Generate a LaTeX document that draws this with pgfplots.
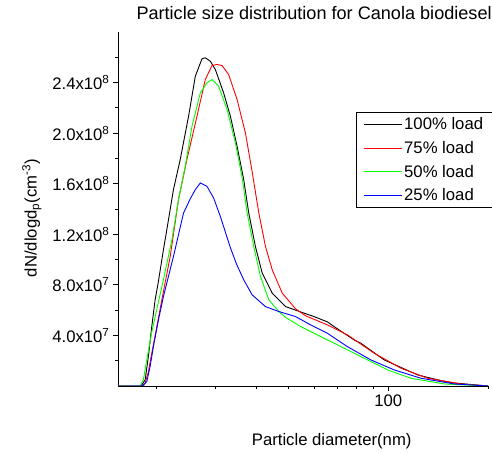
\documentclass[border=0pt]{standalone}
\usepackage{pgfplots}
\pgfplotsset{compat=1.18}
\usepackage{fontspec}
\setmainfont{Liberation Sans}
\definecolor{cgreen}{rgb}{0,1,0}
\definecolor{cred}{rgb}{1,0,0}
\definecolor{cblue}{rgb}{0,0,1}
\newcommand{\fs}{\fontsize{16.7bp}{20bp}\selectfont}
\begin{document}
\begin{tikzpicture}
\begin{axis}[
  at={(118bp,67bp)}, anchor=south west,
  scale only axis, width=370bp, height=354bp,
  xmode=log, xmin=15.28, xmax=200,
  ymin=0, ymax=2.8e8,
  axis x line*=bottom, axis y line*=left,
  axis line style={line width=0.9bp},
  tick align=outside,
  major tick length=5bp, minor tick length=3bp,
  every tick/.style={black, line width=0.8bp},
  xtick={100}, xticklabels={\textrm{100}},
  minor xtick={20,30,40,50,60,70,80,90,200},
  ytick={4e7,8e7,1.2e8,1.6e8,2.0e8,2.4e8},
  minor ytick={2e7,6e7,1e8,1.4e8,1.8e8,2.2e8,2.6e8},
  scaled y ticks=false,
  yticklabels={\textrm{4.0x10\textsuperscript{7}},\textrm{8.0x10\textsuperscript{7}},\textrm{1.2x10\textsuperscript{8}},\textrm{1.6x10\textsuperscript{8}},\textrm{2.0x10\textsuperscript{8}},\textrm{2.4x10\textsuperscript{8}}},
  ticklabel style={font=\fs},
  xlabel={Particle diameter(nm)},
  xlabel style={font=\fs, at={(axis description cs:0.5776,-0.1667)}, anchor=base},
  ylabel={dN/dlogd\textsubscript{p}(cm\textsuperscript{-3})},
  ylabel style={font=\fs, at={(axis description cs:-0.22,0.4746)}, anchor=base, rotate=0},
  title={Particle size distribution for Canola biodiesel},
  title style={font=\fontsize{18.1bp}{21bp}\selectfont, at={(axis description cs:0,1)}, anchor=base west, xshift=15bp, yshift=6.3bp},
  legend style={at={(axis description cs:0.6424,0.7740)}, anchor=north west, draw=black, line width=0.8bp, font=\fs, inner xsep=7bp, inner ysep=3.5bp, row sep=6bp, cells={anchor=west}},
  legend image code/.code={\draw[line width=1.1bp,#1] (0bp,0bp) -- (38bp,0bp);},
  every axis plot/.append style={line width=0.9bp},
]
\addplot[color=black] coordinates {
(15.28,0) (17.93,0) (18.02,0.08e7) (18.45,0.48e7) (18.87,2.32e7) (19.32,4.70e7) (19.78,6.81e7) (20.20,8.16e7) (20.95,10.77e7) (21.65,12.99e7) (22.46,15.53e7) (23.54,17.90e7) (24.95,21.33e7) (26.15,24.50e7) (27.39,25.88e7) (28.03,25.96e7) (29.02,25.69e7) (30.06,25.03e7) (31.84,23.18e7) (33.38,21.33e7) (34.97,18.95e7) (36.61,16.32e7) (37.92,13.68e7) (39.72,11.03e7) (41.63,8.93e7) (44.63,7.34e7) (48.98,6.28e7) (53.15,5.95e7) (56.31,5.72e7) (59.68,5.49e7) (65.52,5.07e7) (68.62,4.70e7) (78.88,3.64e7) (82.65,3.38e7) (97.25,2.06e7) (122.8,0.87e7) (141.5,0.48e7) (154.9,0.26e7) (200,0)
};
\addlegendentry{100\% load\hspace{14bp}}
\addplot[color=cred] coordinates {
(15.28,0) (18.22,0) (18.45,0.21e7) (18.87,1.13e7) (19.32,2.59e7) (20.01,4.70e7) (20.72,6.81e7) (21.96,10.24e7) (23.26,14.73e7) (24.66,17.90e7) (26.45,21.33e7) (28.03,24.24e7) (29.37,25.35e7) (30.41,25.43e7) (31.49,25.35e7) (32.97,24.63e7) (34.97,22.65e7) (37.05,20.01e7) (38.82,16.95e7) (40.66,13.68e7) (42.59,11.03e7) (44.63,9.19e7) (47.86,7.34e7) (52.51,6.10e7) (56.31,5.55e7) (65.52,4.83e7) (75.33,4.04e7) (90.69,2.59e7) (109.3,1.40e7) (131.6,0.61e7) (166.1,0.16e7) (200,0)
};
\addlegendentry{75\% load}
\addplot[color=cgreen] coordinates {
(15.28,0) (17.81,0) (18.22,0.48e7) (18.66,2.06e7) (19.30,4.20e7) (20.05,6.18e7) (20.95,8.40e7) (22.22,11.56e7) (23.26,14.73e7) (24.38,17.37e7) (25.55,20.54e7) (27.07,23.18e7) (28.36,23.98e7) (29.37,24.24e7) (30.75,23.71e7) (32.62,21.86e7) (34.56,19.22e7) (36.21,16.48e7) (37.50,13.68e7) (39.26,11.03e7) (41.13,8.66e7) (43.60,6.81e7) (46.74,5.89e7) (48.98,5.43e7) (54.38,4.70e7) (65.52,3.64e7) (78.88,2.59e7) (99.6,1.27e7) (117.2,0.61e7) (147.8,0.16e7) (200,0)
};
\addlegendentry{50\% load}
\addplot[color=cblue] coordinates {
(15.28,0) (18.02,0) (18.66,0.34e7) (19.10,1.53e7) (19.54,3.11e7) (20.24,5.23e7) (20.95,7.07e7) (22.46,10.24e7) (24.09,13.68e7) (25.25,14.81e7) (26.15,15.53e7) (27.07,16.06e7) (28.36,15.79e7) (29.70,14.87e7) (31.12,13.41e7) (33.38,10.93e7) (34.80,9.66e7) (36.61,8.40e7) (38.82,7.21e7) (42.59,6.28e7) (46.74,5.89e7) (52.51,5.49e7) (58.32,4.83e7) (65.52,4.17e7) (75.33,3.11e7) (88.63,2.06e7) (104.3,1.27e7) (125.6,0.61e7) (158.5,0.16e7) (200,0)
};
\addlegendentry{25\% load}
\end{axis}
\pgfresetboundingbox
\path[use as bounding box] (0,0) rectangle (492bp,453bp);
\end{tikzpicture}
\end{document}
